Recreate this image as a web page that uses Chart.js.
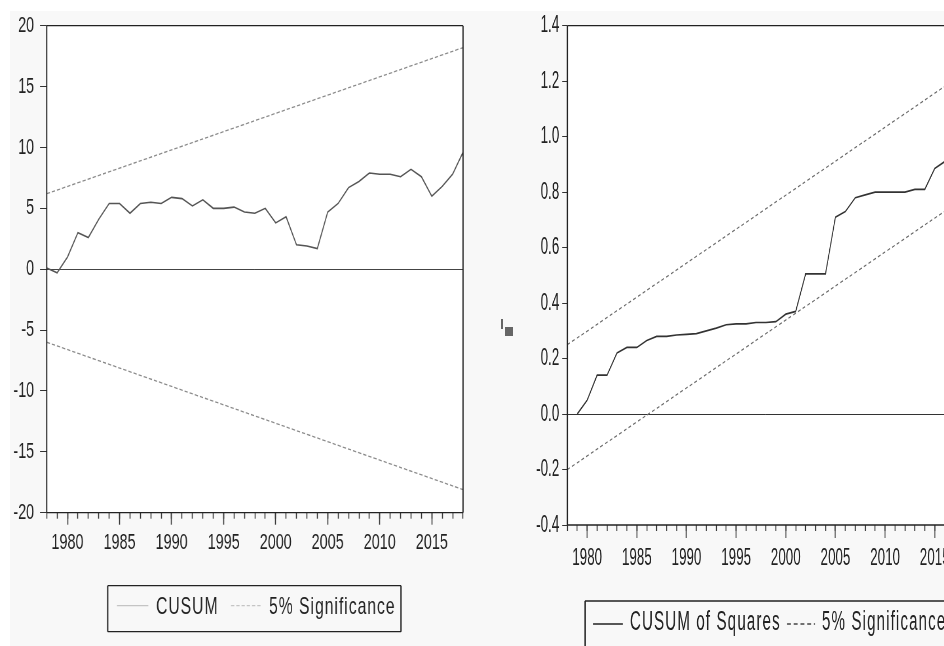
<!DOCTYPE html>
<html>
<head>
<meta charset="utf-8">
<script src="https://cdn.jsdelivr.net/npm/chart.js@4.4.1/dist/chart.umd.min.js"></script>
<style>
  html, body { margin: 0; padding: 0; width: 944px; height: 646px; overflow: hidden; background: #fff; }
  #panel { position: absolute; left: 10px; top: 11px; width: 934px; height: 635px; background: #f8f8f8; }
  .squeeze { position: absolute; top: 0; transform-origin: 0 0; }
  #leftWrap { left: 0; width: 760px; height: 646px; transform: scaleX(0.655); }
  #rightWrap { left: 500px; width: 870px; height: 646px; transform: scaleX(0.56); }
  .speck { position: absolute; background: #666; }
</style>
</head>
<body>
<div id="panel"></div>
<div class="speck" style="left:501px;top:319px;width:2px;height:10px"></div>
<div class="speck" style="left:505px;top:327px;width:8px;height:9px"></div>
<div id="leftWrap" class="squeeze"><canvas id="cusumChart" width="760" height="646"></canvas></div>
<div id="rightWrap" class="squeeze"><canvas id="cusumsqChart" width="870" height="646"></canvas></div>
<script>
// --- data ---
const years = [1978, 1979, 1980, 1981, 1982, 1983, 1984, 1985, 1986, 1987,
  1988, 1989, 1990, 1991, 1992, 1993, 1994, 1995, 1996, 1997,
  1998, 1999, 2000, 2001, 2002, 2003, 2004, 2005, 2006, 2007,
  2008, 2009, 2010, 2011, 2012, 2013, 2014, 2015, 2016, 2017, 2018];
const cusum = [0.1, -0.3, 1.0, 3.0, 2.6, 4.1, 5.4, 5.4, 4.6, 5.4,
  5.5, 5.4, 5.9, 5.8, 5.2, 5.7, 5.0, 5.0, 5.1, 4.7,
  4.6, 5.0, 3.8, 4.3, 2.0, 1.9, 1.7, 4.7, 5.4, 6.7,
  7.2, 7.9, 7.8, 7.8, 7.6, 8.2, 7.6, 6.0, 6.8, 7.8, 9.6];

const sqYears = [1979, 1980, 1981, 1982, 1983, 1984, 1985, 1986, 1987, 1988,
  1989, 1990, 1991, 1992, 1993, 1994, 1995, 1996, 1997, 1998,
  1999, 2000, 2001, 2002, 2003, 2004, 2005, 2006, 2007, 2008,
  2009, 2010, 2011, 2012, 2013, 2014, 2015, 2016, 2017, 2018];
const cusumSq = [0.0, 0.05, 0.14, 0.14, 0.22, 0.24, 0.24, 0.265, 0.28, 0.28,
  0.285, 0.287, 0.29, 0.30, 0.31, 0.322, 0.325, 0.325, 0.33, 0.33,
  0.333, 0.36, 0.37, 0.505, 0.505, 0.505, 0.71, 0.73, 0.78, 0.79,
  0.80, 0.80, 0.80, 0.80, 0.81, 0.81, 0.885, 0.91, 0.95, 1.0];

// 5% bands are straight lines: end points only
const boundYears = [1978, 2018];
const cusumUpper = [6.2, 18.2];
const cusumLower = [-6.0, -18.1];
const sqUpper = [0.25, 1.23];
const sqLower = [-0.20, 0.78];

const majorYears = [1980, 1985, 1990, 1995, 2000, 2005, 2010, 2015];
const cusumTicks = [-20, -15, -10, -5, 0, 5, 10, 15, 20];
const sqTicks = [-0.4, -0.2, 0.0, 0.2, 0.4, 0.6, 0.8, 1.0, 1.2, 1.4];

const FONT = '"Liberation Sans", Arial, sans-serif';

function pts(xs, ys) {
  return xs.map((x, i) => ({ x: x, y: ys[i] }));
}
function setTicks(list) {
  return scale => { scale.ticks = list.map(v => ({ value: v })); };
}

// white plot area + black frame (vertical strokes thicker since canvas is squeezed)
const framePlugin = {
  id: 'frame',
  beforeDraw(chart) {
    const a = chart.chartArea, ctx = chart.ctx;
    ctx.save();
    ctx.fillStyle = '#fff';
    ctx.fillRect(a.left, a.top, a.right - a.left, a.bottom - a.top);
    ctx.restore();
  },
  afterDraw(chart, args, o) {
    const a = chart.chartArea, ctx = chart.ctx;
    ctx.save();
    ctx.strokeStyle = o.color;
    ctx.lineWidth = o.hw;
    ctx.beginPath();
    ctx.moveTo(a.left, a.top); ctx.lineTo(a.right, a.top);
    ctx.moveTo(a.left, a.bottom); ctx.lineTo(a.right, a.bottom);
    ctx.stroke();
    ctx.lineWidth = o.vw;
    ctx.beginPath();
    ctx.moveTo(a.left, a.top); ctx.lineTo(a.left, a.bottom);
    ctx.moveTo(a.right, a.top); ctx.lineTo(a.right, a.bottom);
    ctx.stroke();
    ctx.restore();
  }
};

// boxed legend like the EViews one
const legendPlugin = {
  id: 'boxLegend',
  afterDraw(chart, args, o) {
    const ctx = chart.ctx, b = o.box;
    ctx.save();
    ctx.strokeStyle = o.border;
    ctx.lineWidth = o.hw;
    ctx.beginPath();
    ctx.moveTo(b[0], b[1]); ctx.lineTo(b[0] + b[2], b[1]);
    ctx.moveTo(b[0], b[1] + b[3]); ctx.lineTo(b[0] + b[2], b[1] + b[3]);
    ctx.stroke();
    ctx.lineWidth = o.vw;
    ctx.beginPath();
    ctx.moveTo(b[0], b[1]); ctx.lineTo(b[0], b[1] + b[3]);
    ctx.moveTo(b[0] + b[2], b[1]); ctx.lineTo(b[0] + b[2], b[1] + b[3]);
    ctx.stroke();
    ctx.font = o.textFont;
    ctx.fillStyle = o.textColor;
    ctx.textBaseline = 'alphabetic';
    ctx.letterSpacing = o.spacing;
    o.items.forEach(it => {
      const ds = chart.data.datasets[it.dataset];
      ctx.strokeStyle = it.color;
      ctx.lineWidth = it.width;
      ctx.setLineDash(it.dash);
      ctx.beginPath();
      ctx.moveTo(it.x0, it.y); ctx.lineTo(it.x1, it.y);
      ctx.stroke();
      ctx.setLineDash([]);
      ctx.fillText(ds.label, it.tx, o.baseline);
    });
    ctx.restore();
  }
};

function xAxes(fontSize, majorLen, minorLen, tickW, pad) {
  return {
    xMinor: {
      type: 'linear', position: 'bottom', min: 1978, max: 2018, weight: 0,
      afterBuildTicks: setTicks(years),
      afterFit: s => { s.height = 0; },
      grid: { drawOnChartArea: false, tickLength: minorLen, tickColor: '#333', tickWidth: tickW },
      border: { display: false },
      ticks: { display: false }
    },
    x: {
      type: 'linear', position: 'bottom', min: 1978, max: 2018, weight: 1,
      afterBuildTicks: setTicks(majorYears),
      afterFit: s => { s.height = 50; },
      grid: { drawOnChartArea: false, tickLength: majorLen, tickColor: '#333', tickWidth: tickW },
      border: { display: false },
      ticks: {
        autoSkip: false, maxRotation: 0, padding: pad, color: '#222',
        font: { family: FONT, size: fontSize },
        callback: v => String(v)
      }
    }
  };
}

// ---------- CUSUM ----------
new Chart(document.getElementById('cusumChart'), {
  type: 'line',
  data: {
    datasets: [
      { label: 'CUSUM', data: pts(years, cusum), borderColor: '#555', borderWidth: 1.6 },
      { label: '5% Significance', data: pts(boundYears, cusumUpper), borderColor: '#8a8a8a', borderWidth: 1.3, borderDash: [5, 3] },
      { label: '5% Significance', data: pts(boundYears, cusumLower), borderColor: '#8a8a8a', borderWidth: 1.3, borderDash: [5, 3] }
    ]
  },
  options: {
    responsive: false,
    animation: false,
    events: [],
    elements: { point: { radius: 0 }, line: { tension: 0 } },
    layout: { padding: { left: 0, top: 25.7, right: 53.1, bottom: 83.3 } },
    scales: Object.assign(xAxes(22, 12, 6, 1.5, 5), {
      y: {
        min: -20, max: 20,
        afterBuildTicks: setTicks(cusumTicks),
        afterFit: s => { s.width = 71.3; },
        grid: {
          drawOnChartArea: true, tickLength: 10.2, tickColor: '#333',
          color: c => (c.tick && c.tick.value === 0 ? '#444' : 'rgba(0,0,0,0)')
        },
        border: { display: false },
        ticks: { padding: 9, color: '#222', font: { family: FONT, size: 22 } }
      }
    }),
    plugins: {
      legend: { display: false },
      tooltip: { enabled: false },
      frame: { color: '#222', hw: 1.2, vw: 1.9 },
      boxLegend: {
        box: [164.4, 585.7, 447.8, 46],
        border: '#222', hw: 1.3, vw: 2.0,
        textFont: '24px ' + FONT, textColor: '#222', spacing: '1.5px', baseline: 613.5,
        items: [
          { dataset: 0, x0: 178.6, x1: 226.4, y: 605.7, color: '#c4c4c4', width: 1.2, dash: [], tx: 238.2 },
          { dataset: 1, x0: 352.7, x1: 400, y: 605.7, color: '#c4c4c4', width: 1.2, dash: [5, 3], tx: 410.7 }
        ]
      }
    }
  },
  plugins: [framePlugin, legendPlugin]
});

// ---------- CUSUM of Squares ----------
new Chart(document.getElementById('cusumsqChart'), {
  type: 'line',
  data: {
    datasets: [
      { label: 'CUSUM of Squares', data: pts(sqYears, cusumSq), borderColor: '#333', borderWidth: 1.7 },
      { label: '5% Significance', data: pts(boundYears, sqUpper), borderColor: '#6a6a6a', borderWidth: 1.3, borderDash: [5, 4] },
      { label: '5% Significance', data: pts(boundYears, sqLower), borderColor: '#6a6a6a', borderWidth: 1.3, borderDash: [5, 4] }
    ]
  },
  options: {
    responsive: false,
    animation: false,
    events: [],
    elements: { point: { radius: 0 }, line: { tension: 0 } },
    layout: { padding: { left: 0, top: 25.7, right: 40.5, bottom: 71 } },
    scales: Object.assign(xAxes(24, 13, 6, 1.7, 6), {
      y: {
        min: -0.4, max: 1.4,
        afterBuildTicks: setTicks(sqTicks),
        afterFit: s => { s.width = 120.2; },
        grid: {
          drawOnChartArea: true, tickLength: 9, tickColor: '#333',
          color: c => (c.tick && c.tick.value === 0 ? '#333' : 'rgba(0,0,0,0)')
        },
        border: { display: false },
        ticks: {
          padding: 5.4, color: '#222', font: { family: FONT, size: 24 },
          callback: v => v.toFixed(1)
        }
      }
    }),
    plugins: {
      legend: { display: false },
      tooltip: { enabled: false },
      frame: { color: '#222', hw: 1.3, vw: 2.3 },
      boxLegend: {
        box: [151.8, 601, 1000, 100],
        border: '#222', hw: 1.4, vw: 2.4,
        textFont: '27px ' + FONT, textColor: '#222', spacing: '2px', baseline: 630,
        items: [
          { dataset: 0, x0: 166.1, x1: 219.6, y: 624, color: '#222', width: 1.6, dash: [], tx: 232.1 },
          { dataset: 1, x0: 512.5, x1: 562.5, y: 624, color: '#444', width: 1.3, dash: [7, 5], tx: 575 }
        ]
      }
    }
  },
  plugins: [framePlugin, legendPlugin]
});
</script>
</body>
</html>
